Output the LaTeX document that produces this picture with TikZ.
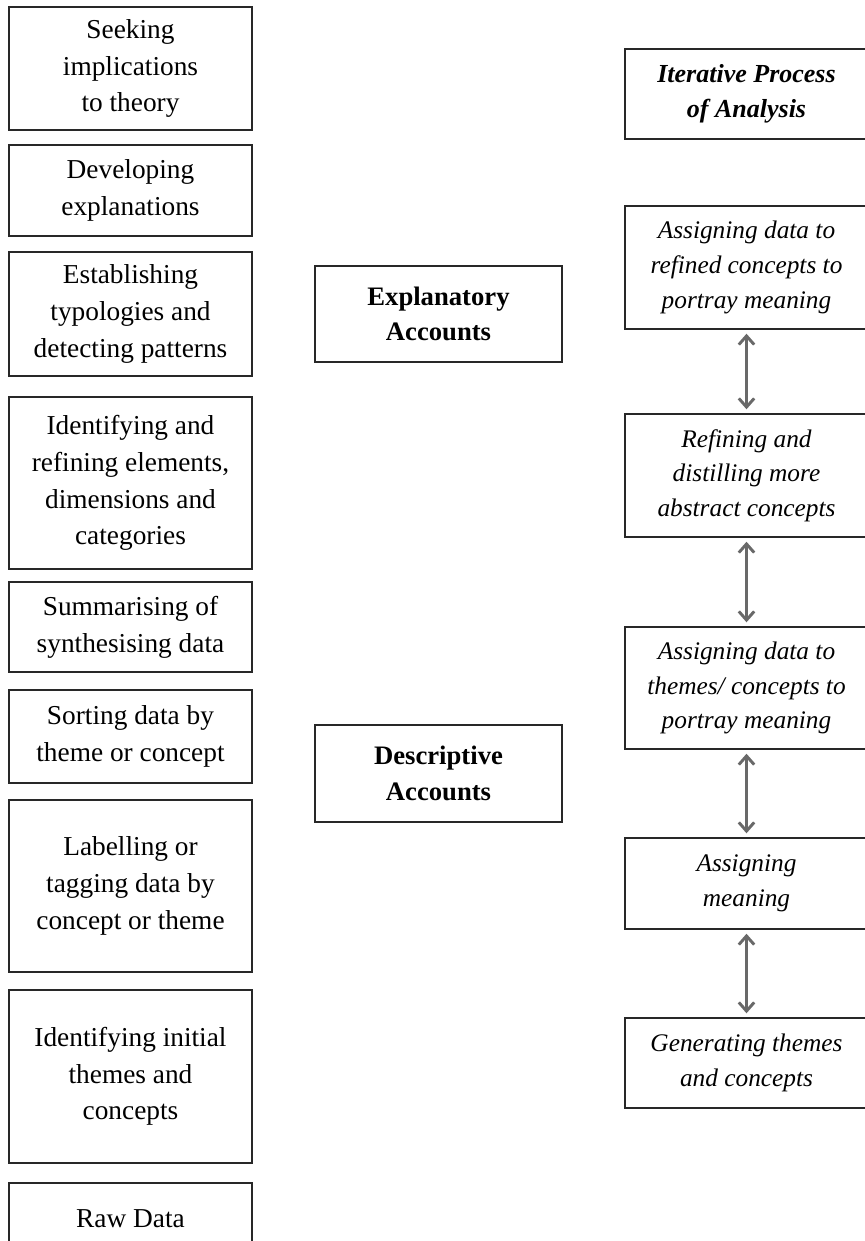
\documentclass[tikz,border=0pt]{standalone}
\usepackage{fontspec}
\setmainfont{Liberation Serif}
\usetikzlibrary{arrows.meta}

\tikzset{every picture/.style={line width=0.75pt}}
\tikzset{
  stage/.style={draw={rgb, 255:red, 40; green, 40; blue, 40}, line width=1.1pt,
    minimum width=182.25pt, minimum height=#1*0.75pt, inner sep=0.75pt,
    align=center, font=\fontsize{20.5}{27.5}\selectfont},
  account/.style={stage=#1, minimum width=185.25pt, font=\fontsize{20}{26.5}\selectfont\bfseries},
  process/.style={stage=#1, font=\fontsize{19}{26}\selectfont\itshape},
  link/.style={draw={rgb, 255:red, 105; green, 105; blue, 105}, line width=2.2pt,
    {Straight Barb[length=6.5pt,width=11.5pt]}-{Straight Barb[length=6.5pt,width=11.5pt]},
    shorten <=3pt, shorten >=3pt}
}

\begin{document}
\begin{tikzpicture}[x=0.75pt,y=0.75pt,yscale=-1,xscale=1]
\useasboundingbox (0,0) rectangle (864,1241);

% Left column: stages of analysis
\node [stage=123] (theory) at (130.5,68.5) {Seeking\\implications\\to theory};
\node [stage=91] (explain) at (130.5,190.5) {Developing\\explanations};
\node [stage=124] (typology) at (130.5,314) {Establishing\\typologies and\\detecting patterns};
\node [stage=172] (elements) at (130.5,483) {Identifying and\\refining elements,\\dimensions and\\categories};
\node [stage=90] (summary) at (130.5,627) {Summarising of\\synthesising data};
\node [stage=93] (sorting) at (130.5,736.5) {Sorting data by\\theme or concept};
\node [stage=172] (labelling) at (130.5,886) {Labelling or\\tagging data by\\concept or theme};
\node [stage=173] (initial) at (130.5,1076.5) {Identifying initial\\themes and\\concepts};
\node [stage=72] (raw) at (130.5,1219) {Raw Data};

% Middle column
\node [account=96] (explanatory) at (438.5,314) {Explanatory\\Accounts};
\node [account=97] (descriptive) at (438.5,773.5) {Descriptive\\Accounts};

% Right column: iterative process
\node [process=90, font=\fontsize{19.5}{26.5}\selectfont\bfseries\itshape] (iterative) at (746.5,94) {Iterative Process\\of Analysis};
\node [process=123] (refined) at (746.5,267.5) {Assigning data to\\refined concepts to\\portray meaning};
\node [process=123] (distil) at (746.5,475.5) {Refining and\\distilling more\\abstract concepts};
\node [process=122] (themes) at (746.5,688) {Assigning data to\\themes/ concepts to\\portray meaning};
\node [process=91] (meaning) at (746.5,883.5) {Assigning\\meaning};
\node [process=90] (generate) at (746.5,1063) {Generating themes\\and concepts};

% Double arrows
\draw [link] (refined) -- (distil);
\draw [link] (distil) -- (themes);
\draw [link] (themes) -- (meaning);
\draw [link] (meaning) -- (generate);

\end{tikzpicture}
\end{document}
